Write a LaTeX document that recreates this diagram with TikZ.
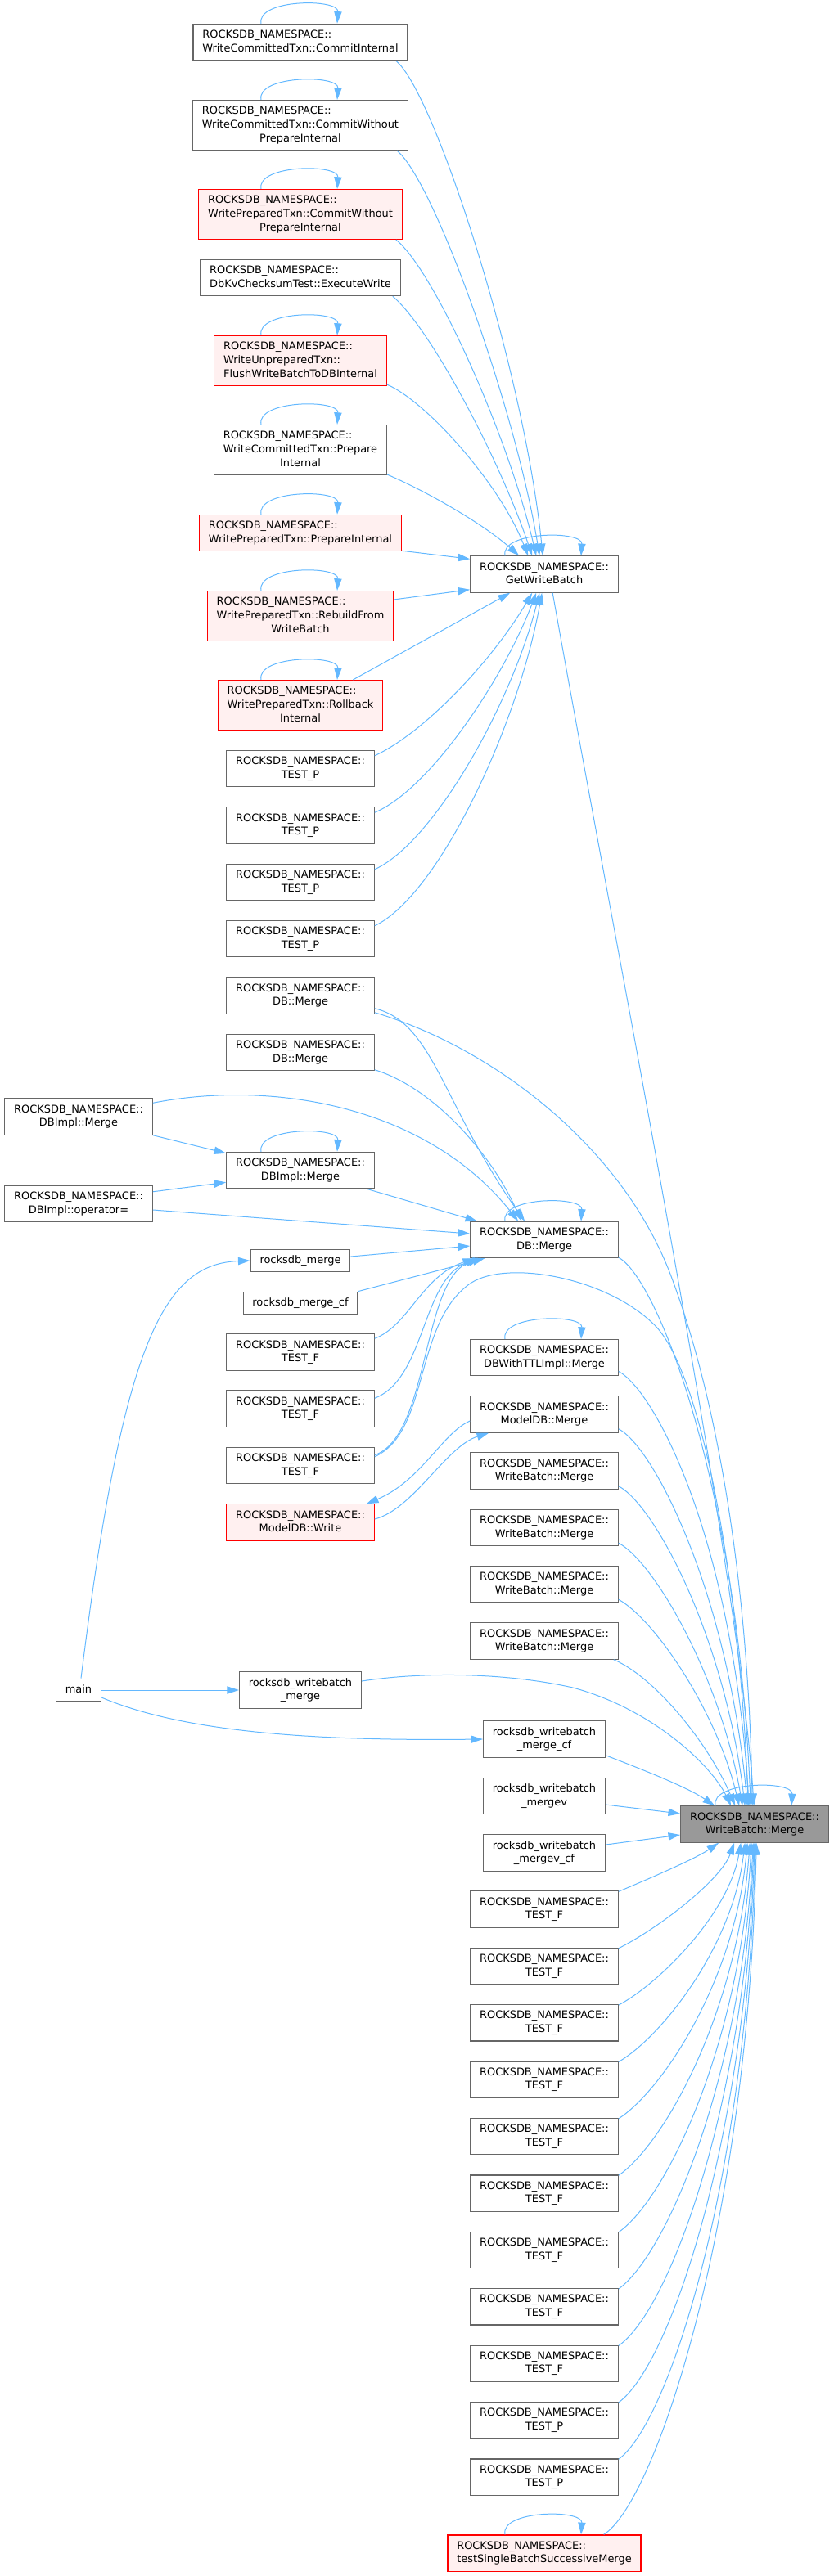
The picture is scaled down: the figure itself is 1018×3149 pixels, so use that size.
\documentclass[tikz,border=0pt]{standalone}
\usepackage{fontspec}
\setmainfont{DejaVu Sans}
\usetikzlibrary{arrows.meta, calc}
\definecolor{edgeblue}{HTML}{63B8FF}
\definecolor{boxgray}{HTML}{666666}
\definecolor{hotred}{HTML}{FF0000}
\definecolor{hotfill}{HTML}{FFF0F0}
\definecolor{focusgray}{HTML}{999999}

\newcommand{\rns}{ROCKSDB\_NAMESPACE::}
\newcommand{\fnone}[1]{\begin{tabular}{@{}c@{}}#1\end{tabular}}
\newcommand{\fntwo}[2]{\begin{tabular}{@{}l@{}}#1\\\multicolumn{1}{@{}c@{}}{#2}\end{tabular}}
\newcommand{\fnthree}[3]{\begin{tabular}{@{}l@{}}#1\\#2\\\multicolumn{1}{@{}c@{}}{#3}\end{tabular}}
\newcommand{\selfloop}[1]{\draw[call] ($(#1.north)+(-48,0)$) .. controls +(-6,-30) and +(2,-31) .. ($(#1.north)+(45,0)$);}

\begin{document}
\begin{tikzpicture}[
    x=0.75pt, y=-0.75pt,
    fn/.style={rectangle, draw=boxgray, fill=white, line width=0.9pt,
               inner xsep=8.5pt, inner ysep=4.1pt,
               font=\fontsize{9.7}{12.5}\selectfont},
    fnred/.style={fn, draw=hotred, fill=hotfill},
    fnfocus/.style={fn, fill=focusgray},
    call/.style={-{Triangle[length=11pt, width=7pt]}, line width=0.75pt, color=edgeblue}
]
\useasboundingbox (0,0) rectangle (1018,3149);

% callers of GetWriteBatch
\node[fn]    (ci)   at (367,51.5)  {\fntwo{\rns}{WriteCommittedTxn::CommitInternal}};
\node[fn]    (cwp)  at (367,153)   {\fnthree{\rns}{WriteCommittedTxn::CommitWithout}{PrepareInternal}};
\node[fnred] (pcwp) at (367,262)   {\fnthree{\rns}{WritePreparedTxn::CommitWithout}{PrepareInternal}};
\node[fn]    (kv)   at (367,339.5) {\fntwo{\rns}{DbKvChecksumTest::ExecuteWrite}};
\node[fnred] (fwb)  at (367,441)   {\fnthree{\rns}{WriteUnpreparedTxn::}{FlushWriteBatchToDBInternal}};
\node[fn]    (cpi)  at (367,550)   {\fnthree{\rns}{WriteCommittedTxn::Prepare}{Internal}};
\node[fnred] (ppi)  at (367,651.5) {\fntwo{\rns}{WritePreparedTxn::PrepareInternal}};
\node[fnred] (rfw)  at (367,753)   {\fnthree{\rns}{WritePreparedTxn::RebuildFrom}{WriteBatch}};
\node[fnred] (rbi)  at (367,862)   {\fnthree{\rns}{WritePreparedTxn::Rollback}{Internal}};
\node[fn]    (tpa)  at (367,939.5) {\fntwo{\rns}{TEST\_P}};
\node[fn]    (tpb)  at (367,1009)  {\fntwo{\rns}{TEST\_P}};
\node[fn]    (tpc)  at (367,1078.5){\fntwo{\rns}{TEST\_P}};
\node[fn]    (tpd)  at (367,1147.5){\fntwo{\rns}{TEST\_P}};
\node[fn]    (gwb)  at (665,702)   {\fntwo{\rns}{GetWriteBatch}};

% callers of DB::Merge
\node[fn]    (dbma) at (367,1217)  {\fntwo{\rns}{DB::Merge}};
\node[fn]    (dbmb) at (367,1286.5){\fntwo{\rns}{DB::Merge}};
\node[fn]    (dil)  at (96,1365)   {\fntwo{\rns}{DBImpl::Merge}};
\node[fn]    (op)   at (96,1471.5) {\fntwo{\rns}{DBImpl::operator=}};
\node[fn]    (dim)  at (367,1430.5){\fntwo{\rns}{DBImpl::Merge}};
\node[fn]    (rm)   at (367,1541)  {\fnone{rocksdb\_merge}};
\node[fn]    (rmc)  at (367,1593)  {\fnone{rocksdb\_merge\_cf}};
\node[fn]    (tfa)  at (367,1653)  {\fntwo{\rns}{TEST\_F}};
\node[fn]    (tfb)  at (367,1722)  {\fntwo{\rns}{TEST\_F}};
\node[fn]    (tfc)  at (367,1791.5){\fntwo{\rns}{TEST\_F}};
\node[fnred] (mw)   at (367,1861)  {\fntwo{\rns}{ModelDB::Write}};
\node[fn]    (dm)   at (665,1515.5){\fntwo{\rns}{DB::Merge}};

% direct callers of WriteBatch::Merge
\node[fn]    (ttl)  at (665,1659.7){\fntwo{\rns}{DBWithTTLImpl::Merge}};
\node[fn]    (mdm)  at (665,1729)  {\fntwo{\rns}{ModelDB::Merge}};
\node[fn]    (wba)  at (665,1798)  {\fntwo{\rns}{WriteBatch::Merge}};
\node[fn]    (wbb)  at (665,1867.5){\fntwo{\rns}{WriteBatch::Merge}};
\node[fn]    (wbc)  at (665,1936.5){\fntwo{\rns}{WriteBatch::Merge}};
\node[fn]    (wbd)  at (665,2006)  {\fntwo{\rns}{WriteBatch::Merge}};
\node[fn]    (main) at (96,2066)   {\fnone{main}};
\node[fn]    (rwm)  at (367,2066)  {\fntwo{rocksdb\_writebatch}{\_merge}};
\node[fn]    (rwmc) at (665,2126)  {\fntwo{rocksdb\_writebatch}{\_merge\_cf}};
\node[fn]    (rwmv) at (665,2195.5){\fntwo{rocksdb\_writebatch}{\_mergev}};
\node[fn]    (rwmvcf) at (665,2265){\fntwo{rocksdb\_writebatch}{\_mergev\_cf}};
\node[fnfocus] (wbm) at (922,2230) {\fntwo{\rns}{WriteBatch::Merge}};
\foreach \i in {1,...,9}
  \node[fn] (tfw\i) at (665,{2334+69.4*(\i-1)}) {\fntwo{\rns}{TEST\_F}};
\foreach \i in {1,2}
  \node[fn] (tpw\i) at (665,{2958.6+69.4*(\i-1)}) {\fntwo{\rns}{TEST\_P}};
\node[fnred] (ts)   at (665,3121)  {\fntwo{\rns}{testSingleBatchSuccessiveMerge}};

% recursive calls
\foreach \n in {ci,cwp,pcwp,fwb,cpi,ppi,rfw,rbi,gwb,dim,dm,ttl,wbm,ts}
  {\selfloop{\n}}

% into GetWriteBatch
\draw[call] ($(ci.south east)+(-15,0)$) .. controls (530,110) and (640,450) .. ($(gwb.north west)+(89,0)$);
\draw[call] ($(cwp.south east)+(-14,0)$) .. controls (530,220) and (630,500) .. ($(gwb.north west)+(85,0)$);
\draw[call] ($(pcwp.south east)+(-8,0)$) .. controls (530,330) and (620,530) .. ($(gwb.north west)+(81,0)$);
\draw[call] ($(kv.south east)+(-10,0)$) .. controls (525,400) and (610,560) .. ($(gwb.north west)+(76,0)$);
\draw[call] ($(fwb.south east)+(0,-2)$) .. controls (520,490) and (610,590) .. ($(gwb.north west)+(71,0)$);
\draw[call] ($(cpi.south east)+(0,-1)$) .. controls (520,600) and (590,640) .. ($(gwb.north west)+(60,0)$);
\draw[call] ($(ppi.south east)+(0,-1)$) -- ($(gwb.north west)+(0,4)$);
\draw[call] ($(rfw.north east)+(0,11)$) -- ($(gwb.south west)+(0,-4)$);
\draw[call] ($(rbi.north east)+(-37,0)$) -- ($(gwb.south west)+(49,0)$);
\draw[call] ($(tpa.north east)+(0,7)$) .. controls (520,895) and (603,805) .. ($(gwb.south west)+(76,0)$);
\draw[call] ($(tpb.north east)+(0,7)$) .. controls (525,965) and (615,830) .. ($(gwb.south west)+(81,0)$);
\draw[call] ($(tpc.north east)+(0,7)$) .. controls (530,1030) and (625,860) .. ($(gwb.south west)+(85,0)$);
\draw[call] ($(tpd.north east)+(0,7)$) .. controls (535,1095) and (632,890) .. ($(gwb.south west)+(88,0)$);

% into DB::Merge and DBImpl::Merge
\draw[call] ($(dbma.south east)+(0,-7)$) .. controls (530,1250) and (540,1350) .. ($(dm.north west)+(67,0)$);
\draw[call] ($(dbmb.south east)+(0,-1.5)$) .. controls (530,1330) and (600,1410) .. ($(dm.north west)+(63,0)$);
\draw[call] ($(dil.north east)+(0,6)$) .. controls (330,1320) and (520,1350) .. ($(dm.north west)+(59,0)$);
\draw[call] (dil.south east) -- ($(dim.north west)+(0,2)$);
\draw[call] ($(op.north east)+(0,8)$) -- ($(dim.south west)+(0,-8)$);
\draw[call] ($(op.east)+(0,7.5)$) -- ($(dm.west)+(0,-7.5)$);
\draw[call] ($(dim.south east)+(-10,0)$) -- ($(dm.north west)+(9,0)$);
\draw[call] ($(rm.east)+(0,-5)$) -- ($(dm.west)+(0,7.5)$);
\draw[call] (rmc.north east) -- ($(dm.south west)+(18,0)$);
\draw[call] ($(tfa.north east)+(0,6)$) .. controls (500,1620) and (515,1560) .. ($(dm.south west)+(6,0)$);
\draw[call] ($(tfb.north east)+(0,10)$) .. controls (520,1685) and (515,1565) .. ($(dm.south west)+(9,0)$);
\draw[call] ($(tfc.north east)+(0,10)$) .. controls (525,1755) and (515,1565) .. ($(dm.south west)+(12,0)$);
\draw[call] ($(main.north)+(3,0)$) .. controls (150,1640) and (200,1545) .. (rm.west);

% ModelDB
\draw[call] ($(mdm.west)+(0,8)$) .. controls (540,1752) and (515,1810) .. ($(mw.north east)+(-10,0)$);
\draw[call] ($(mw.east)+(0,-4)$) .. controls (505,1845) and (545,1768) .. ($(mdm.south west)+(23,0)$);

% main
\draw[call] (main.east) -- (rwm.west);
\draw[call] ($(main.east)+(0,9)$) .. controls (230,2120) and (400,2128) .. (rwmc.west);

% into WriteBatch::Merge from above
\draw[call] ($(gwb.south west)+(101,0)$) .. controls (760,1200) and (900,1900) .. ($(wbm.north west)+(90,0)$);
\draw[call] ($(dbma.south east)+(0,-2)$) .. controls (600,1280) and (760,1400) .. (820,1560)
            .. controls (880,1720) and (915,1950) .. ($(wbm.north west)+(88,0)$);
\draw[call] ($(tfc.north east)+(0,12)$) .. controls (525,1750) and (505,1620) .. (573,1570)
            .. controls (615,1539) and (740,1560) .. (800,1620)
            .. controls (860,1680) and (905,1950) .. ($(wbm.north west)+(83,0)$);
\draw[call] ($(dm.south east)+(0,-1)$) .. controls (800,1560) and (900,1800) .. ($(wbm.north west)+(86,0)$);
\draw[call] ($(ttl.south east)+(0,-6)$) .. controls (800,1700) and (895,1880) .. ($(wbm.north west)+(84,0)$);
\draw[call] ($(mdm.south east)+(0,-5)$) .. controls (800,1770) and (890,1950) .. ($(wbm.north west)+(82,0)$);
\draw[call] ($(wba.south east)+(0,-4)$) .. controls (800,1840) and (885,2000) .. ($(wbm.north west)+(79,0)$);
\draw[call] ($(wbb.south east)+(0,-4)$) .. controls (800,1910) and (880,2050) .. ($(wbm.north west)+(76,0)$);
\draw[call] ($(wbc.south east)+(0,-4)$) .. controls (800,1980) and (875,2090) .. ($(wbm.north west)+(72,0)$);
\draw[call] ($(wbd.south east)+(-6,0)$) .. controls (800,2050) and (865,2130) .. ($(wbm.north west)+(67,0)$);
\draw[call] ($(rwm.east)+(0,-11)$) .. controls (520,2043) and (620,2045) .. (700,2063)
            .. controls (800,2090) and (870,2160) .. ($(wbm.north west)+(62,0)$);
\draw[call] ($(rwmc.south east)+(0,-3)$) .. controls (790,2165) and (840,2185) .. ($(wbm.north west)+(42,0)$);
\draw[call] ($(rwmv.east)+(0,10.5)$) -- ($(wbm.west)+(0,-13)$);
\draw[call] ($(rwmvcf.east)+(0,-10)$) -- ($(wbm.west)+(0,13)$);

% into WriteBatch::Merge from below
\foreach \n/\ax/\ay/\bx/\by/\tx in {tfw1/790/2298/850/2272/47, tfw2/800/2360/880/2300/66,
    tfw3/805/2425/890/2340/74, tfw4/808/2490/895/2380/79, tfw5/810/2555/898/2420/82,
    tfw6/812/2620/901/2460/85, tfw7/814/2688/904/2500/87, tfw8/815/2755/906/2540/89,
    tfw9/817/2825/908/2580/90, tpw1/818/2892/910/2620/91, tpw2/819/2960/912/2660/92}
  {\draw[call] ($(\n.north east)+(0,1)$) .. controls (\ax,\ay) and (\bx,\by) .. ($(wbm.south west)+(\tx,0)$);}
\draw[call] ($(ts.north east)+(-46,0)$) .. controls (800,3060) and (914,2720) .. ($(wbm.south west)+(93,0)$);

\end{tikzpicture}
\end{document}
